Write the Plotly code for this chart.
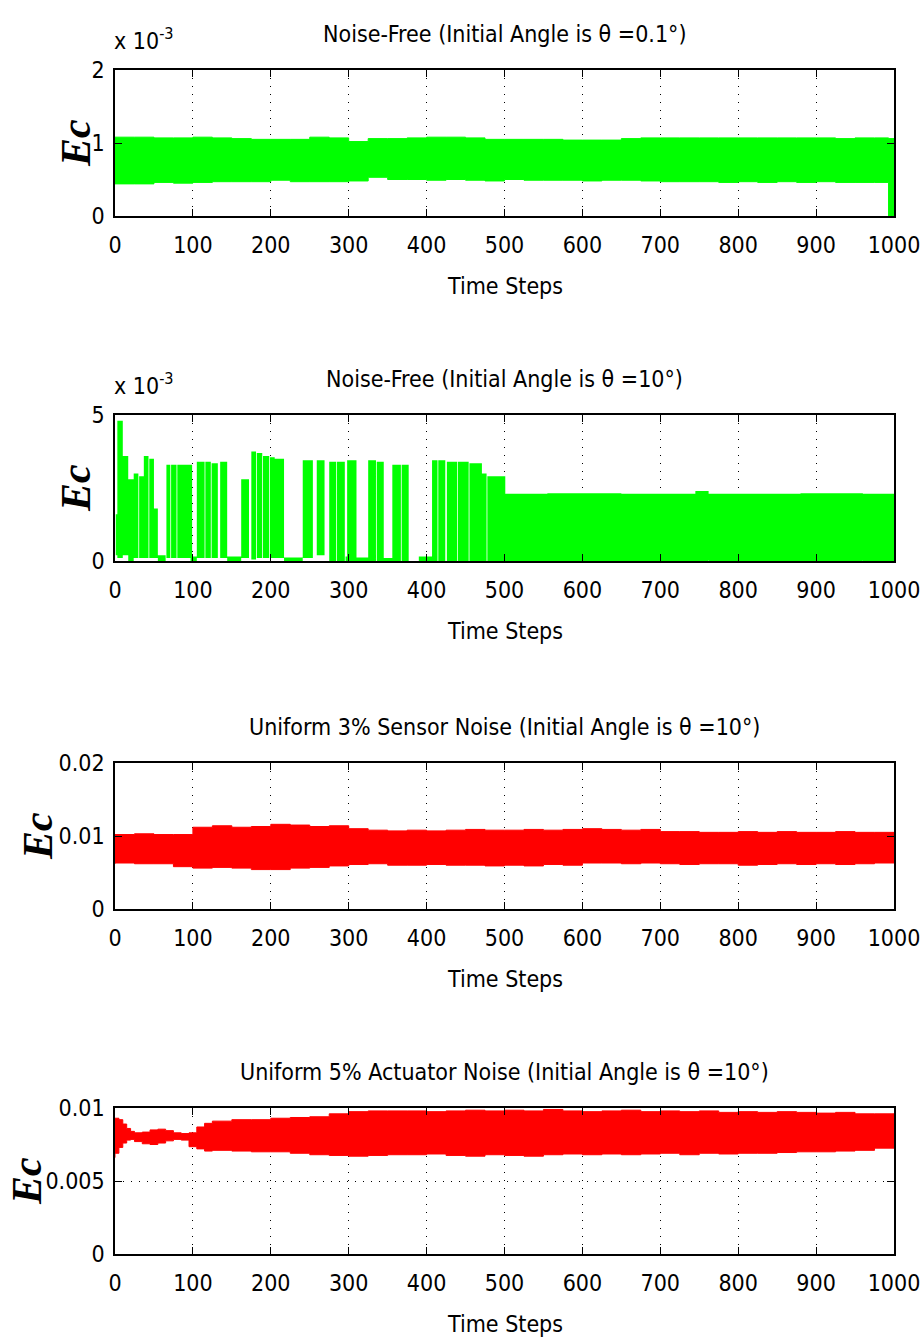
import plotly.graph_objects as go

# ---------------- data ----------------
# Panel 1: noise-free, theta0 = 0.1 deg  (values in units of 1e-3)
steps1 = [0, 25, 50, 75, 100, 125, 150, 175, 200, 225, 250, 275, 300, 325, 350,
          375, 400, 425, 450, 475, 500, 525, 550, 575, 600, 625, 650, 675, 700,
          725, 750, 775, 800, 825, 850, 875, 900, 925, 950, 975, 993, 1000]
upper1 = [1.08, 1.08, 1.07, 1.07, 1.08, 1.07, 1.06, 1.05, 1.05, 1.05, 1.08, 1.07,
          1.02, 1.06, 1.06, 1.07, 1.08, 1.08, 1.07, 1.05, 1.05, 1.05, 1.05, 1.04,
          1.04, 1.04, 1.06, 1.07, 1.07, 1.07, 1.07, 1.07, 1.07, 1.07, 1.07, 1.07,
          1.07, 1.06, 1.07, 1.07, 1.06, 1.05]
lower1 = [0.45, 0.44, 0.44, 0.46, 0.45, 0.46, 0.47, 0.47, 0.47, 0.49, 0.47, 0.47,
          0.47, 0.48, 0.53, 0.50, 0.50, 0.49, 0.50, 0.49, 0.48, 0.50, 0.49, 0.49,
          0.49, 0.48, 0.49, 0.49, 0.48, 0.47, 0.47, 0.47, 0.46, 0.47, 0.46, 0.47,
          0.46, 0.47, 0.46, 0.46, 0.46, 0.00]

# Panel 2: noise-free, theta0 = 10 deg (values in units of 1e-3)
# bursts of oscillation: start step, end step, high value, low value
burst_start = [1, 3, 10, 17, 24, 31, 37, 44, 50, 55, 66, 72, 80, 97, 105, 116, 124,
               135, 144, 162, 175, 182, 190, 199, 205, 217, 241, 259, 275, 285,
               296, 298, 310, 325, 336, 345, 356, 368, 390, 407, 415, 426, 440,
               455, 471, 478, 501, 555, 650, 745, 762, 880, 960]
burst_end = [4, 10, 17, 24, 30, 37, 43, 50, 55, 65, 71, 79, 99, 105, 115, 123, 132,
             144, 162, 172, 181, 189, 198, 205, 217, 241, 254, 269, 284, 295,
             298, 310, 325, 335, 345, 356, 367, 377, 407, 414, 424, 439, 454,
             471, 477, 501, 555, 650, 745, 762, 880, 960, 1000]
burst_high = [1.6, 4.8, 3.6, 2.8, 3.0, 2.9, 3.6, 3.5, 1.8, 0.2, 3.3, 3.3, 3.3, 0.15,
              3.4, 3.4, 3.35, 3.4, 0.15, 2.8, 3.75, 3.7, 3.6, 3.55, 3.5, 0.12,
              3.45, 3.45, 3.4, 3.4, 0.15, 3.45, 0.12, 3.45, 3.4, 0.1, 3.3, 3.3,
              0.15, 3.45, 3.45, 3.4, 3.4, 3.35, 3.0, 2.9, 2.3, 2.32, 2.3, 2.4,
              2.3, 2.32, 2.3]
burst_low = [0.2, 0.1, 0.2, 0.0, 0.1, 0.1, 0.1, 0.1, 0.1, 0.0, 0.1, 0.1, 0.1, 0.0,
             0.1, 0.1, 0.1, 0.1, 0.0, 0.1, 0.05, 0.1, 0.1, 0.1, 0.1, 0.0, 0.1,
             0.2, 0.0, 0.0, 0.0, 0.0, 0.0, 0.0, 0.0, 0.0, 0.0, 0.0, 0.0, 0.0,
             0.0, 0.0, 0.0, 0.0, 0.0, 0.0, 0.0, 0.0, 0.0, 0.0, 0.0, 0.0, 0.0]

# Panel 3: uniform 3% sensor noise
steps3 = [0, 25, 50, 75, 100, 125, 150, 175, 200, 225, 250, 275, 300, 325, 350,
          375, 400, 425, 450, 475, 500, 525, 550, 575, 600, 625, 650, 675, 700,
          725, 750, 775, 800, 825, 850, 875, 900, 925, 950, 975, 1000]
upper3 = [0.0102, 0.0103, 0.0102, 0.0102, 0.0112, 0.0114, 0.0112, 0.0113, 0.0116,
          0.0115, 0.0113, 0.0114, 0.0110, 0.0108, 0.0107, 0.0108, 0.0107, 0.0108,
          0.0109, 0.0108, 0.0108, 0.0109, 0.0108, 0.0109, 0.0110, 0.0109, 0.0108,
          0.0109, 0.0106, 0.0106, 0.0105, 0.0105, 0.0106, 0.0105, 0.0106, 0.0105,
          0.0105, 0.0106, 0.0105, 0.0105, 0.0104]
lower3 = [0.0062, 0.0063, 0.0062, 0.0062, 0.0058, 0.0056, 0.0057, 0.0056, 0.0054,
          0.0054, 0.0056, 0.0057, 0.0059, 0.0061, 0.0062, 0.0060, 0.0060, 0.0061,
          0.0060, 0.0060, 0.0059, 0.0060, 0.0059, 0.0061, 0.0060, 0.0063, 0.0063,
          0.0062, 0.0063, 0.0062, 0.0061, 0.0062, 0.0062, 0.0060, 0.0061, 0.0062,
          0.0061, 0.0062, 0.0061, 0.0062, 0.0063]

# Panel 4: uniform 5% actuator noise
steps4 = [0, 5, 10, 15, 20, 25, 35, 45, 55, 65, 75, 85, 95, 105, 115, 125, 150,
          175, 200, 225, 250, 275, 300, 325, 350, 375, 400, 425, 450, 475, 500,
          525, 550, 575, 600, 625, 650, 675, 700, 725, 750, 775, 800, 825, 850,
          875, 900, 925, 950, 975, 1000]
upper4 = [0.0093, 0.0092, 0.0089, 0.0086, 0.0084, 0.0083, 0.00835, 0.0085,
          0.00855, 0.00845, 0.0083, 0.00825, 0.0083, 0.0087, 0.00895, 0.0091,
          0.0092, 0.0092, 0.0093, 0.00935, 0.0094, 0.0096, 0.00975, 0.0098,
          0.0098, 0.0098, 0.00975, 0.0098, 0.00985, 0.0098, 0.00985, 0.0098,
          0.0099, 0.0098, 0.00975, 0.0098, 0.00985, 0.00975, 0.0098, 0.00975,
          0.0098, 0.0097, 0.00975, 0.0097, 0.00975, 0.0097, 0.00965, 0.0097,
          0.0096, 0.0096, 0.00955]
lower4 = [0.0066, 0.0069, 0.0073, 0.0076, 0.0078, 0.00785, 0.0077, 0.00755,
          0.0075, 0.0076, 0.00775, 0.00785, 0.0078, 0.00735, 0.0072, 0.00705,
          0.0071, 0.00705, 0.0070, 0.0070, 0.0069, 0.0068, 0.00675, 0.0067,
          0.00675, 0.0068, 0.0068, 0.00685, 0.00675, 0.0067, 0.0068, 0.00675,
          0.0067, 0.0068, 0.00685, 0.0068, 0.00685, 0.0068, 0.00685, 0.0069,
          0.0068, 0.0069, 0.00685, 0.0069, 0.0069, 0.00695, 0.0070, 0.0070,
          0.00705, 0.0071, 0.00725]

titles = [
    "Noise-Free (Initial Angle is \u03b8 =0.1\u00b0)",
    "Noise-Free (Initial Angle is \u03b8 =10\u00b0)",
    "Uniform 3% Sensor Noise (Initial Angle is \u03b8 =10\u00b0)",
    "Uniform 5% Actuator Noise (Initial Angle is \u03b8 =10\u00b0)",
]
x_ticks = [0, 100, 200, 300, 400, 500, 600, 700, 800, 900, 1000]
y_ticks = [[0, 1, 2], [0, 5], [0, 0.01, 0.02], [0, 0.005, 0.01]]
y_ticktext = [["0", "1", "2"], ["0", "5"], ["0", "0.01", "0.02"], ["0", "0.005", "0.01"]]
y_ranges = [[0, 2], [0, 5], [0, 0.02], [0, 0.01]]
exponent = ["-3", "-3", None, None]

GREEN = "#00ff00"
RED = "#ff0000"

# ---------------- layout geometry (pixels) ----------------
W, H = 922, 1344
AX_L, AX_R = 115, 894
AX_TOPS = [70, 415, 763, 1108]
AX_H = 146
YLABEL_X = [76, 76, 38, 27]

FONT = "DejaVu Sans Condensed, Liberation Sans Narrow, Arial Narrow, sans-serif"
TXT = 23


def py(px):
    return 1 - px / H


def band(xs, hi, lo):
    return xs + xs[::-1], hi + lo[::-1]


fig = go.Figure()

# panel 1
bx, by = band(steps1, upper1, lower1)
fig.add_trace(go.Scatter(x=bx, y=by, fill="toself", fillcolor=GREEN, mode="lines",
                         line=dict(color=GREEN, width=1, shape="hv"), xaxis="x", yaxis="y",
                         hoverinfo="skip", showlegend=False))

# panel 2: each burst as a filled block
bxs, bys = [], []
for s, e, hi, lo in zip(burst_start, burst_end, burst_high, burst_low):
    bxs += [s, e, e, s, s, None]
    bys += [lo, lo, hi, hi, lo, None]
fig.add_trace(go.Scatter(x=bxs, y=bys, fill="toself", fillcolor=GREEN, mode="lines",
                         line=dict(color=GREEN, width=0), xaxis="x2", yaxis="y2",
                         hoverinfo="skip", showlegend=False))

# panel 3
bx, by = band(steps3, upper3, lower3)
fig.add_trace(go.Scatter(x=bx, y=by, fill="toself", fillcolor=RED, mode="lines",
                         line=dict(color=RED, width=1, shape="hv"), xaxis="x3", yaxis="y3",
                         hoverinfo="skip", showlegend=False))

# panel 4
bx, by = band(steps4, upper4, lower4)
fig.add_trace(go.Scatter(x=bx, y=by, fill="toself", fillcolor=RED, mode="lines",
                         line=dict(color=RED, width=1, shape="hv"), xaxis="x4", yaxis="y4",
                         hoverinfo="skip", showlegend=False))

axis_common = dict(
    showline=True, linecolor="black", linewidth=1.5, mirror="ticks",
    ticks="inside", ticklen=7, tickwidth=1, tickcolor="black",
    showgrid=True, gridcolor="black", gridwidth=1, griddash="1px,7px",
    zeroline=False, tickfont=dict(family=FONT, size=TXT, color="black"),
    fixedrange=True, automargin=False,
)

annotations = []
layout = dict(width=W, height=H, margin=dict(l=0, r=0, t=0, b=0, autoexpand=False),
              paper_bgcolor="white", plot_bgcolor="white", showlegend=False)

for i in range(4):
    sfx = "" if i == 0 else str(i + 1)
    top = AX_TOPS[i]
    bot = top + AX_H
    layout["xaxis" + sfx] = dict(
        axis_common, domain=[AX_L / W, AX_R / W], range=[0, 1000],
        tickvals=x_ticks, ticktext=[str(t) for t in x_ticks],
        anchor="y" + sfx, ticklabelstandoff=8,
    )
    layout["yaxis" + sfx] = dict(
        axis_common, domain=[py(bot), py(top)], range=y_ranges[i],
        tickvals=y_ticks[i], ticktext=y_ticktext[i],
        anchor="x" + sfx, ticklabelstandoff=4,
    )
    # title
    annotations.append(dict(text=titles[i], x=(AX_L + AX_R) / 2 / W, y=py(top - 36),
                            xref="paper", yref="paper", xanchor="center", yanchor="middle",
                            showarrow=False, font=dict(family=FONT, size=TXT, color="black")))
    # x label
    annotations.append(dict(text="Time Steps", x=(AX_L + AX_R) / 2 / W, y=py(bot + 70),
                            xref="paper", yref="paper", xanchor="center", yanchor="middle",
                            showarrow=False, font=dict(family=FONT, size=TXT, color="black")))
    # y label
    annotations.append(dict(text="<b><i>Ec</i></b>", x=YLABEL_X[i] / W, y=py(top + AX_H / 2),
                            xref="paper", yref="paper", xanchor="center", yanchor="middle",
                            textangle=-90, showarrow=False,
                            font=dict(family="Liberation Serif, DejaVu Serif, serif",
                                      size=42, color="black")))
    if exponent[i]:
        annotations.append(dict(text="x 10<sup>%s</sup>" % exponent[i], x=AX_L / W,
                                y=py(top - 14), xref="paper", yref="paper",
                                xanchor="left", yanchor="bottom", showarrow=False,
                                xshift=-3,
                                font=dict(family=FONT, size=TXT, color="black")))

layout["annotations"] = annotations
fig.update_layout(**layout)
fig.write_html("out.html")
